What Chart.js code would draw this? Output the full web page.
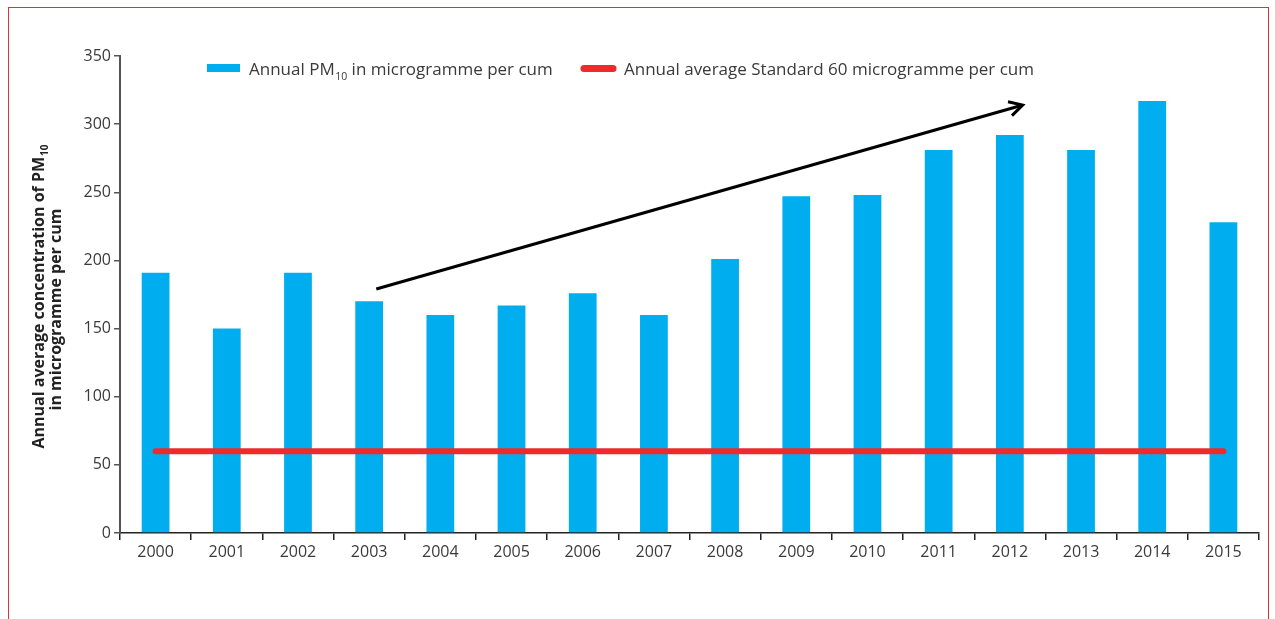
<!DOCTYPE html>
<html>
<head>
<meta charset="utf-8">
<script src="https://cdn.jsdelivr.net/npm/chart.js@4.4.0/dist/chart.umd.min.js"></script>
<style>
  html, body { margin: 0; padding: 0; background: #fff; }
  #wrap { position: relative; width: 1275px; height: 619px; overflow: hidden; }
  #frame { position: absolute; left: 8px; top: 7px; width: 1261px; height: 700px;
           border: 1.5px solid #d9323b; box-sizing: border-box; }
  canvas { position: absolute; left: 0; top: 0; }
</style>
</head>
<body>
<div id="wrap">
  <div id="frame"></div>
  <canvas id="chart" width="1275" height="619"></canvas>
</div>
<script>
// data
const years = ['2000', '2001', '2002', '2003', '2004', '2005', '2006', '2007',
               '2008', '2009', '2010', '2011', '2012', '2013', '2014', '2015'];
const pm10 = [191, 150, 191, 170, 160, 167, 176, 160, 201, 247, 248, 281, 292, 281, 317, 228];
const standard = [60, 60, 60, 60, 60, 60, 60, 60, 60, 60, 60, 60, 60, 60, 60, 60];
const yTicks = [0, 50, 100, 150, 200, 250, 300, 350];
// trend arrow, in (category index, value) units
const arrowStart = [3.1, 179];
const arrowEnd = [12.18, 314];

const FONT = '"Open Sans", "Noto Sans", sans-serif';
const TEXT = '#3a3a3a';

// draws text with a "10" subscript after the given prefix
function drawSub(ctx, x, y, before, sub, after, size, subSize) {
  ctx.font = size + 'px ' + FONT;
  ctx.fillText(before, x, y);
  x += ctx.measureText(before).width;
  ctx.font = subSize + 'px ' + FONT;
  ctx.fillText(sub, x + 0.5, y + size * 0.28);
  x += ctx.measureText(sub).width + 0.5;
  ctx.font = size + 'px ' + FONT;
  ctx.fillText(after, x, y);
}

const overlay = {
  id: 'overlay',
  afterDatasetsDraw(chart) {
    const ctx = chart.ctx;
    const xs = chart.scales.x, ys = chart.scales.y;
    const x1 = xs.getPixelForValue(arrowStart[0]), y1 = ys.getPixelForValue(arrowStart[1]);
    const x2 = xs.getPixelForValue(arrowEnd[0]), y2 = ys.getPixelForValue(arrowEnd[1]);
    const ang = Math.atan2(y2 - y1, x2 - x1);
    const head = 15;
    ctx.save();
    ctx.strokeStyle = '#000';
    ctx.lineWidth = 3;
    ctx.lineCap = 'butt';
    ctx.beginPath();
    ctx.moveTo(x1, y1);
    ctx.lineTo(x2 - 1.5 * Math.cos(ang), y2 - 1.5 * Math.sin(ang));
    ctx.stroke();
    ctx.lineJoin = 'miter';
    ctx.beginPath();
    ctx.moveTo(x2 - head * Math.cos(ang - 0.5), y2 - head * Math.sin(ang - 0.5));
    ctx.lineTo(x2, y2);
    ctx.lineTo(x2 - head * Math.cos(ang + 0.5), y2 - head * Math.sin(ang + 0.5));
    ctx.stroke();
    ctx.restore();
  },
  afterDraw(chart) {
    const ctx = chart.ctx;
    const area = chart.chartArea;
    ctx.save();
    ctx.textBaseline = 'alphabetic';
    ctx.textAlign = 'left';

    // legend
    ctx.fillStyle = '#00aeef';
    ctx.fillRect(207, 64, 33, 8);
    ctx.fillStyle = TEXT;
    drawSub(ctx, 249, 75, 'Annual PM', '10', ' in microgramme per cum', 17, 10.5);
    ctx.strokeStyle = '#ee2b2b';
    ctx.lineWidth = 7;
    ctx.lineCap = 'round';
    ctx.beginPath();
    ctx.moveTo(584, 68.5);
    ctx.lineTo(613, 68.5);
    ctx.stroke();
    ctx.font = '17px ' + FONT;
    ctx.fillText('Annual average Standard 60 microgramme per cum', 624, 75);

    // y axis title, two rotated lines
    const cy = (area.top + area.bottom) / 2;
    ctx.rotate(-Math.PI / 2);
    ctx.fillStyle = '#222';
    ctx.font = 'bold 16px ' + FONT;
    const l1a = 'Annual average concentration of PM';
    const w1 = ctx.measureText(l1a).width;
    ctx.font = 'bold 10px ' + FONT;
    const w1s = ctx.measureText('10').width;
    const tot1 = w1 + w1s + 1;
    ctx.font = 'bold 16px ' + FONT;
    ctx.fillText(l1a, -(cy + 2) - tot1 / 2, 44);
    ctx.font = 'bold 10px ' + FONT;
    ctx.fillText('10', -(cy + 2) - tot1 / 2 + w1 + 1, 48);
    ctx.font = 'bold 16px ' + FONT;
    ctx.textAlign = 'center';
    ctx.fillText('in microgramme per cum', -(cy + 15), 61);
    ctx.restore();
  }
};

new Chart(document.getElementById('chart'), {
  data: {
    labels: years,
    datasets: [
      {
        type: 'line',
        label: 'Annual average Standard 60 microgramme per cum',
        data: standard,
        borderColor: '#ee2b2b',
        borderWidth: 6,
        borderCapStyle: 'round',
        pointRadius: 0,
        order: 0
      },
      {
        type: 'bar',
        label: 'Annual PM10 in microgramme per cum',
        data: pm10,
        backgroundColor: '#00aeef',
        barPercentage: 0.39,
        categoryPercentage: 1,
        order: 1
      }
    ]
  },
  options: {
    responsive: false,
    devicePixelRatio: 1,
    animation: false,
    layout: { padding: { top: 56, right: 16, left: 0, bottom: 0 } },
    plugins: { legend: { display: false }, tooltip: { enabled: false } },
    scales: {
      x: {
        offset: true,
        grid: { offset: true, drawOnChartArea: false, tickLength: 7, color: '#222', lineWidth: 1.5 },
        border: { color: '#222', width: 1.5 },
        ticks: { color: TEXT, font: { family: FONT, size: 16 }, padding: 3, maxRotation: 0 },
        afterFit(s) { s.height = 86; }
      },
      y: {
        min: 0,
        max: 350,
        afterBuildTicks(s) { s.ticks = yTicks.map(v => ({ value: v })); },
        grid: { drawOnChartArea: false, tickLength: 6, color: '#555', lineWidth: 1.5 },
        border: { color: '#555', width: 2 },
        ticks: { color: TEXT, font: { family: FONT, size: 16 }, padding: 3 },
        afterFit(s) { s.width = 120; }
      }
    }
  },
  plugins: [overlay]
});
</script>
</body>
</html>
